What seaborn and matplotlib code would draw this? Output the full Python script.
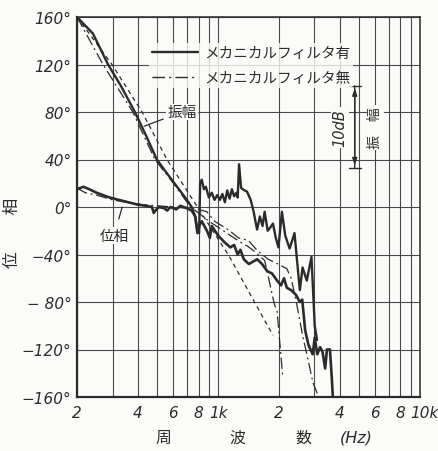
import numpy as np
import pandas as pd
import seaborn as sns
import matplotlib
matplotlib.use("Agg")
import matplotlib.pyplot as plt
import matplotlib.transforms as mtransforms
from matplotlib.lines import Line2D
from matplotlib.ticker import FixedLocator, NullFormatter

# ---------------- data ----------------
# amplitude, with mechanical filter (solid)
amp_with_f = [200, 240, 285, 330, 387, 440, 497, 560, 620, 680, 740, 770, 790, 805, 815, 830, 850, 870,
              900, 930, 960, 990, 1020, 1050, 1080, 1110, 1140, 1170, 1200, 1230, 1250, 1270, 1300,
              1350, 1390, 1450, 1500, 1530, 1560, 1610, 1660, 1700, 1760, 1800, 1870, 1930, 1990,
              2070, 2150, 2260, 2390, 2460, 2540, 2620, 2750, 2900, 2960, 3010, 3090]
amp_with_v = [160, 146, 120, 102, 80, 60, 40, 28, 18, 9, 0, -8, -20, -22, 20, 23, 15, 17,
              8, 12, 6, 10, 6, 11, 4, 14, 7, 15, 9, 12, 8, 36, 16,
              14, 13, 6, -4, -12, -19, -8, -16, -4, -20, -18, -14, -26, -34,
              -4, -24, -35, -22, -45, -70, -51, -62, -42, -74, -100, -112]

# phase, with mechanical filter (solid)
ph_with_f = [200, 215, 230, 250, 290, 340, 400, 440, 470, 480, 495, 510, 540, 560, 580, 620, 650, 700,
             740, 770, 790, 810, 830, 880, 910, 930, 1000, 1080, 1150, 1200, 1250, 1290, 1340, 1420,
             1490, 1560, 1650, 1750, 1850, 1960, 2050, 2120, 2190, 2300, 2430, 2540, 2610, 2700,
             2800, 2940, 3010, 3100, 3200, 3290, 3390, 3460, 3580, 3660, 3700]
ph_with_v = [15, 17, 15, 12, 8, 5, 2, 1, 0, -5, -2, 0, -1, -3, 0, -2, 1, -1,
             -3, -8, -22, -15, -12, -20, -26, -16, -24, -30, -34, -32, -40, -36, -44, -48,
             -46, -44, -48, -54, -56, -62, -66, -60, -68, -70, -74, -80, -78, -104,
             -116, -124, -110, -124, -118, -122, -136, -120, -120, -145, -160]

# phase, without mechanical filter (dash-dot)
ph_without_f = [200, 220, 250, 300, 350, 420, 500, 600, 700, 800, 880, 960, 1120, 1260, 1410, 1570,
                1770, 1980, 2190, 2300, 2440, 2620, 2800, 2950, 3100]
ph_without_v = [16, 12, 10, 6, 4, 2, 1, 0, -1, -2, -4, -12, -19, -26, -28, -37,
                -44, -48, -52, -60, -80, -108, -130, -148, -157]

# amplitude, without mechanical filter (dash-dot)
amp_without_f = [200, 269, 378, 486, 600, 730, 800, 900, 1000, 1150, 1300, 1400, 1530, 1700, 1800,
                 1900, 1960, 2090]
amp_without_v = [160, 120, 80, 40, 20, 0, -5, -12, -17, -24, -30, -33, -38, -45, -64,
                 -82, -88, -143]

# reference (dashed)
ref_f = [200, 298, 420, 558, 790, 1140, 1490, 1870]
ref_v = [160, 120, 80, 40, 0, -42, -78, -108]

x_ticks = [200, 400, 600, 800, 1000, 2000, 4000, 6000, 8000, 10000]
x_tick_labels = ["2", "4", "6", "8", "1k", "2", "4", "6", "8", "10k"]
x_minor = [300, 500, 700, 900, 3000, 5000, 7000, 9000]
y_ticks = [160, 120, 80, 40, 0, -40, -80, -120, -160]
y_tick_labels = ["160°", "120°", "80°", "40°", "0°", "−40°", "− 80°", "−120°", "−160°"]
legend_labels = ["メカニカルフィルタ有", "メカニカルフィルタ無"]
x_label_parts = ["周", "波", "数", "(Hz)"]
y_label = "位　　 相"

# ---------------- style ----------------
sns.set_theme(style="white")
plt.rcParams["font.family"] = ["Noto Sans CJK JP", "DejaVu Sans"]

ink = "#2b2b2b"
grid_c = "#4a4a4a"
bg = "#fbfbf9"
dashdot = (0, (9, 3, 1.5, 3))
dashed = (0, (3.5, 3))

W, H = 439, 452
fig = plt.figure(figsize=(W / 100, H / 100), dpi=100)
fig.patch.set_facecolor(bg)
ax = fig.add_axes([77 / W, 1 - 398 / H, (420 - 77) / W, (398 - 18) / H])
ax.set_facecolor(bg)

def draw(f, v, ls, lw):
    d = pd.DataFrame({"f": f, "v": v})
    sns.lineplot(data=d, x="f", y="v", ax=ax, color=ink, linestyle=ls, linewidth=lw,
                 estimator=None, sort=False)

draw(ref_f, ref_v, dashed, 0.9)
draw(amp_without_f, amp_without_v, dashdot, 0.9)
draw(ph_without_f, ph_without_v, dashdot, 0.9)
draw(amp_with_f, amp_with_v, "-", 1.7)
draw(ph_with_f, ph_with_v, "-", 1.9)

ax.set_xscale("log")
ax.set_xlim(200, 10000)
ax.set_ylim(-160, 160)
ax.xaxis.set_major_locator(FixedLocator(x_ticks))
ax.xaxis.set_minor_locator(FixedLocator(x_minor))
ax.xaxis.set_minor_formatter(NullFormatter())
ax.set_xticks(x_ticks)
ax.set_xticklabels(x_tick_labels)
ax.set_yticks(y_ticks)
ax.set_yticklabels(y_tick_labels)
ax.tick_params(axis="both", which="both", length=0, labelsize=11, pad=4)
ax.tick_params(axis="x", pad=6)
xlabs = ax.get_xticklabels()
for lab in xlabs + ax.get_yticklabels():
    lab.set_fontfamily("DejaVu Sans")
    lab.set_fontstyle("italic")
    lab.set_color(ink)
xlabs[-1].set_transform(xlabs[-1].get_transform() +
                        mtransforms.ScaledTranslation(4 / 100, 0, fig.dpi_scale_trans))

ax.grid(True, which="both", color=grid_c, linewidth=0.8)
for s in ax.spines.values():
    s.set_color(ink)
    s.set_linewidth(1.1)
ax.spines["left"].set_linewidth(1.6)
ax.spines["bottom"].set_linewidth(1.6)

# axis labels
ax.set_xlabel("")
ax.set_ylabel(y_label, fontsize=12, color=ink)
ax.yaxis.set_label_coords((21 - 77) / (420 - 77), (398 - 233) / 380)
for txt, px in zip(x_label_parts, [163, 237, 303, 356]):
    kw = dict(fontfamily="DejaVu Sans", fontstyle="italic") if txt.startswith("(") else {}
    fig.text(px / W, 1 - 438 / H, txt, fontsize=11.5, color=ink, ha="center", va="center", **kw)

# legend
handles = [Line2D([], [], color=ink, lw=1.7, ls="-"),
           Line2D([], [], color=ink, lw=1.0, ls=dashdot)]
leg = ax.legend(handles, legend_labels, loc="upper left", bbox_to_anchor=(0.19, 0.95),
                frameon=True, handlelength=3.1, fontsize=10.5, labelspacing=0.75,
                handletextpad=0.45, borderpad=0.2)
leg.get_frame().set_facecolor(bg)
leg.get_frame().set_edgecolor("none")
for t in leg.get_texts():
    t.set_color(ink)

# annotations
ax.annotate("振幅", xy=(430, 68), xytext=(662, 80), fontsize=10.5, color=ink,
            ha="center", va="center",
            bbox=dict(boxstyle="square,pad=0.1", fc=bg, ec="none"),
            arrowprops=dict(arrowstyle="-", color=ink, lw=0.9, shrinkA=2, shrinkB=0))
ax.annotate("位相", xy=(335, 0), xytext=(305, -24), fontsize=10.5, color=ink,
            ha="center", va="center",
            bbox=dict(boxstyle="square,pad=0.1", fc=bg, ec="none"),
            arrowprops=dict(arrowstyle="-", color=ink, lw=0.9, shrinkA=6, shrinkB=0))

# 10 dB scale bar
ax.annotate("", xy=(4750, 102), xytext=(4750, 33),
            arrowprops=dict(arrowstyle="|-|,widthA=0.35,widthB=0.35", color=ink, lw=1.0,
                            shrinkA=0, shrinkB=0))
ax.annotate("", xy=(4750, 100), xytext=(4750, 35),
            arrowprops=dict(arrowstyle="<|-|>,head_length=0.35,head_width=0.12", color=ink,
                            lw=1.0, shrinkA=0, shrinkB=0))
ax.text(4000, 67, "10dB", rotation=90, fontsize=10.5, color=ink, ha="center", va="center",
        fontfamily="DejaVu Sans", fontstyle="italic",
        bbox=dict(boxstyle="square,pad=0.1", fc=bg, ec="none"))
ax.text(6000, 67, "振　幅", rotation=90, fontsize=10, color=ink, ha="center", va="center",
        bbox=dict(boxstyle="square,pad=0.1", fc=bg, ec="none"))

fig.savefig("out.png", dpi=100, facecolor=fig.get_facecolor())
